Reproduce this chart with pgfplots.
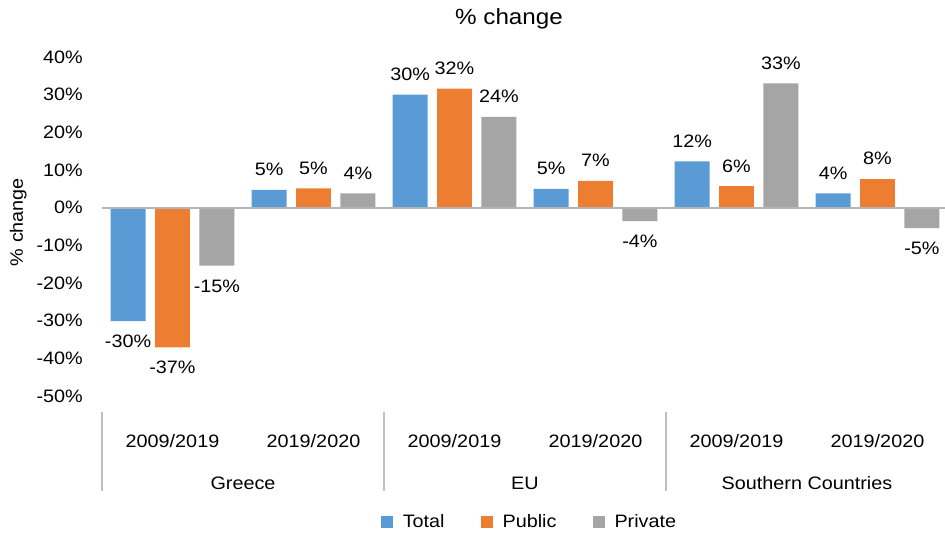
\documentclass[border=0pt]{standalone}
\usepackage{pgfplots}
\pgfplotsset{compat=1.18}
\usepackage{fontspec}
\setmainfont{Liberation Sans}[FakeStretch=1.1]
\definecolor{cTotal}{HTML}{5B9BD5}
\definecolor{cPublic}{HTML}{ED7D31}
\definecolor{cPrivate}{HTML}{A5A5A5}
\definecolor{axgray}{HTML}{B4B4B4}
\definecolor{sepgray}{HTML}{BFBFBF}
\newcommand{\fs}{\fontsize{18}{21}\selectfont}
\newcommand{\ft}{\fontsize{22}{26}\selectfont}
\begin{document}
\begin{tikzpicture}
\begin{axis}[
  at={(0pt,0pt)}, anchor=south west,
  scale only axis, width=846pt, height=339pt,
  xmin=-0.5, xmax=5.5, ymin=-50, ymax=40,
  clip=false,
  ybar, bar width=0.248,
  axis line style={draw=none},
  tick style={draw=none},
  ytick={-50,-40,...,40},
  /pgf/number format/assume math mode=true,
  yticklabel={\pgfmathprintnumber{\tick}\%},
  yticklabel style={font=\fs, inner sep=0pt, anchor=east, xshift=-19pt},
  xtick={0,...,5},
  xticklabels={2009/2019,2019/2020,2009/2019,2019/2020,2009/2019,2019/2020},
  xticklabel style={font=\fs, anchor=center, yshift=-41pt},
  nodes near coords={\pgfmathprintnumber[fixed,precision=0]{\pgfplotspointmeta}\%},
  every node near coord/.append style={font=\fs, inner sep=0pt, outer sep=14pt, text=black},
  legend style={at={(0.5053,-0.3717)}, anchor=center, draw=none, fill=none, font=\fs,
    legend columns=3,
    /tikz/every even column/.append style={column sep=34pt},
    /tikz/every odd column/.append style={column sep=8pt}},
  legend cell align=left,
]
\addplot[fill=cTotal, draw=none, bar shift=-0.315,
  legend image code/.code={\fill[cTotal] (0pt,-6pt) rectangle (12pt,6pt);}]
  coordinates {(0,-30.1) (1,4.7) (2,30.0) (3,5.0) (4,12.3) (5,3.8)};
\addlegendentry{Total}
\addplot[fill=cPublic, draw=none, bar shift=0,
  legend image code/.code={\fill[cPublic] (0pt,-6pt) rectangle (12pt,6pt);}]
  coordinates {(0,-37.1) (1,5.1) (2,31.6) (3,7.1) (4,5.7) (5,7.6)};
\addlegendentry{Public}
\addplot[fill=cPrivate, draw=none, bar shift=0.315,
  legend image code/.code={\fill[cPrivate] (0pt,-6pt) rectangle (12pt,6pt);}]
  coordinates {(0,-15.4) (1,3.8) (2,24.1) (3,-3.6) (4,33.0) (5,-5.4)};
\addlegendentry{Private}
\draw[axgray, line width=2pt] (axis cs:-0.5,0) -- (axis cs:5.5,0);
\draw[sepgray, line width=1.5pt] (axis cs:-0.5,-50) ++(0pt,-15.7pt) -- ++(0pt,-79pt);
\draw[sepgray, line width=1.5pt] (axis cs:1.5,-50) ++(0pt,-15.7pt) -- ++(0pt,-79pt);
\draw[sepgray, line width=1.5pt] (axis cs:3.5,-50) ++(0pt,-15.7pt) -- ++(0pt,-79pt);
\node[font=\fs, yshift=-87.3pt] at (axis cs:0.5,-50) {Greece};
\node[font=\fs, yshift=-87.3pt] at (axis cs:2.5,-50) {EU};
\node[font=\fs, yshift=-87.3pt] at (axis cs:4.5,-50) {Southern Countries};
\end{axis}
\node[font=\ft, anchor=base] at (407pt,371pt) {\% change};
\node[font=\fs, rotate=90, anchor=base] at (-79pt,174pt) {\% change};
\pgfresetboundingbox
\path[use as bounding box] (-102pt,-138pt) rectangle (843pt,396pt);
\end{tikzpicture}
\end{document}
